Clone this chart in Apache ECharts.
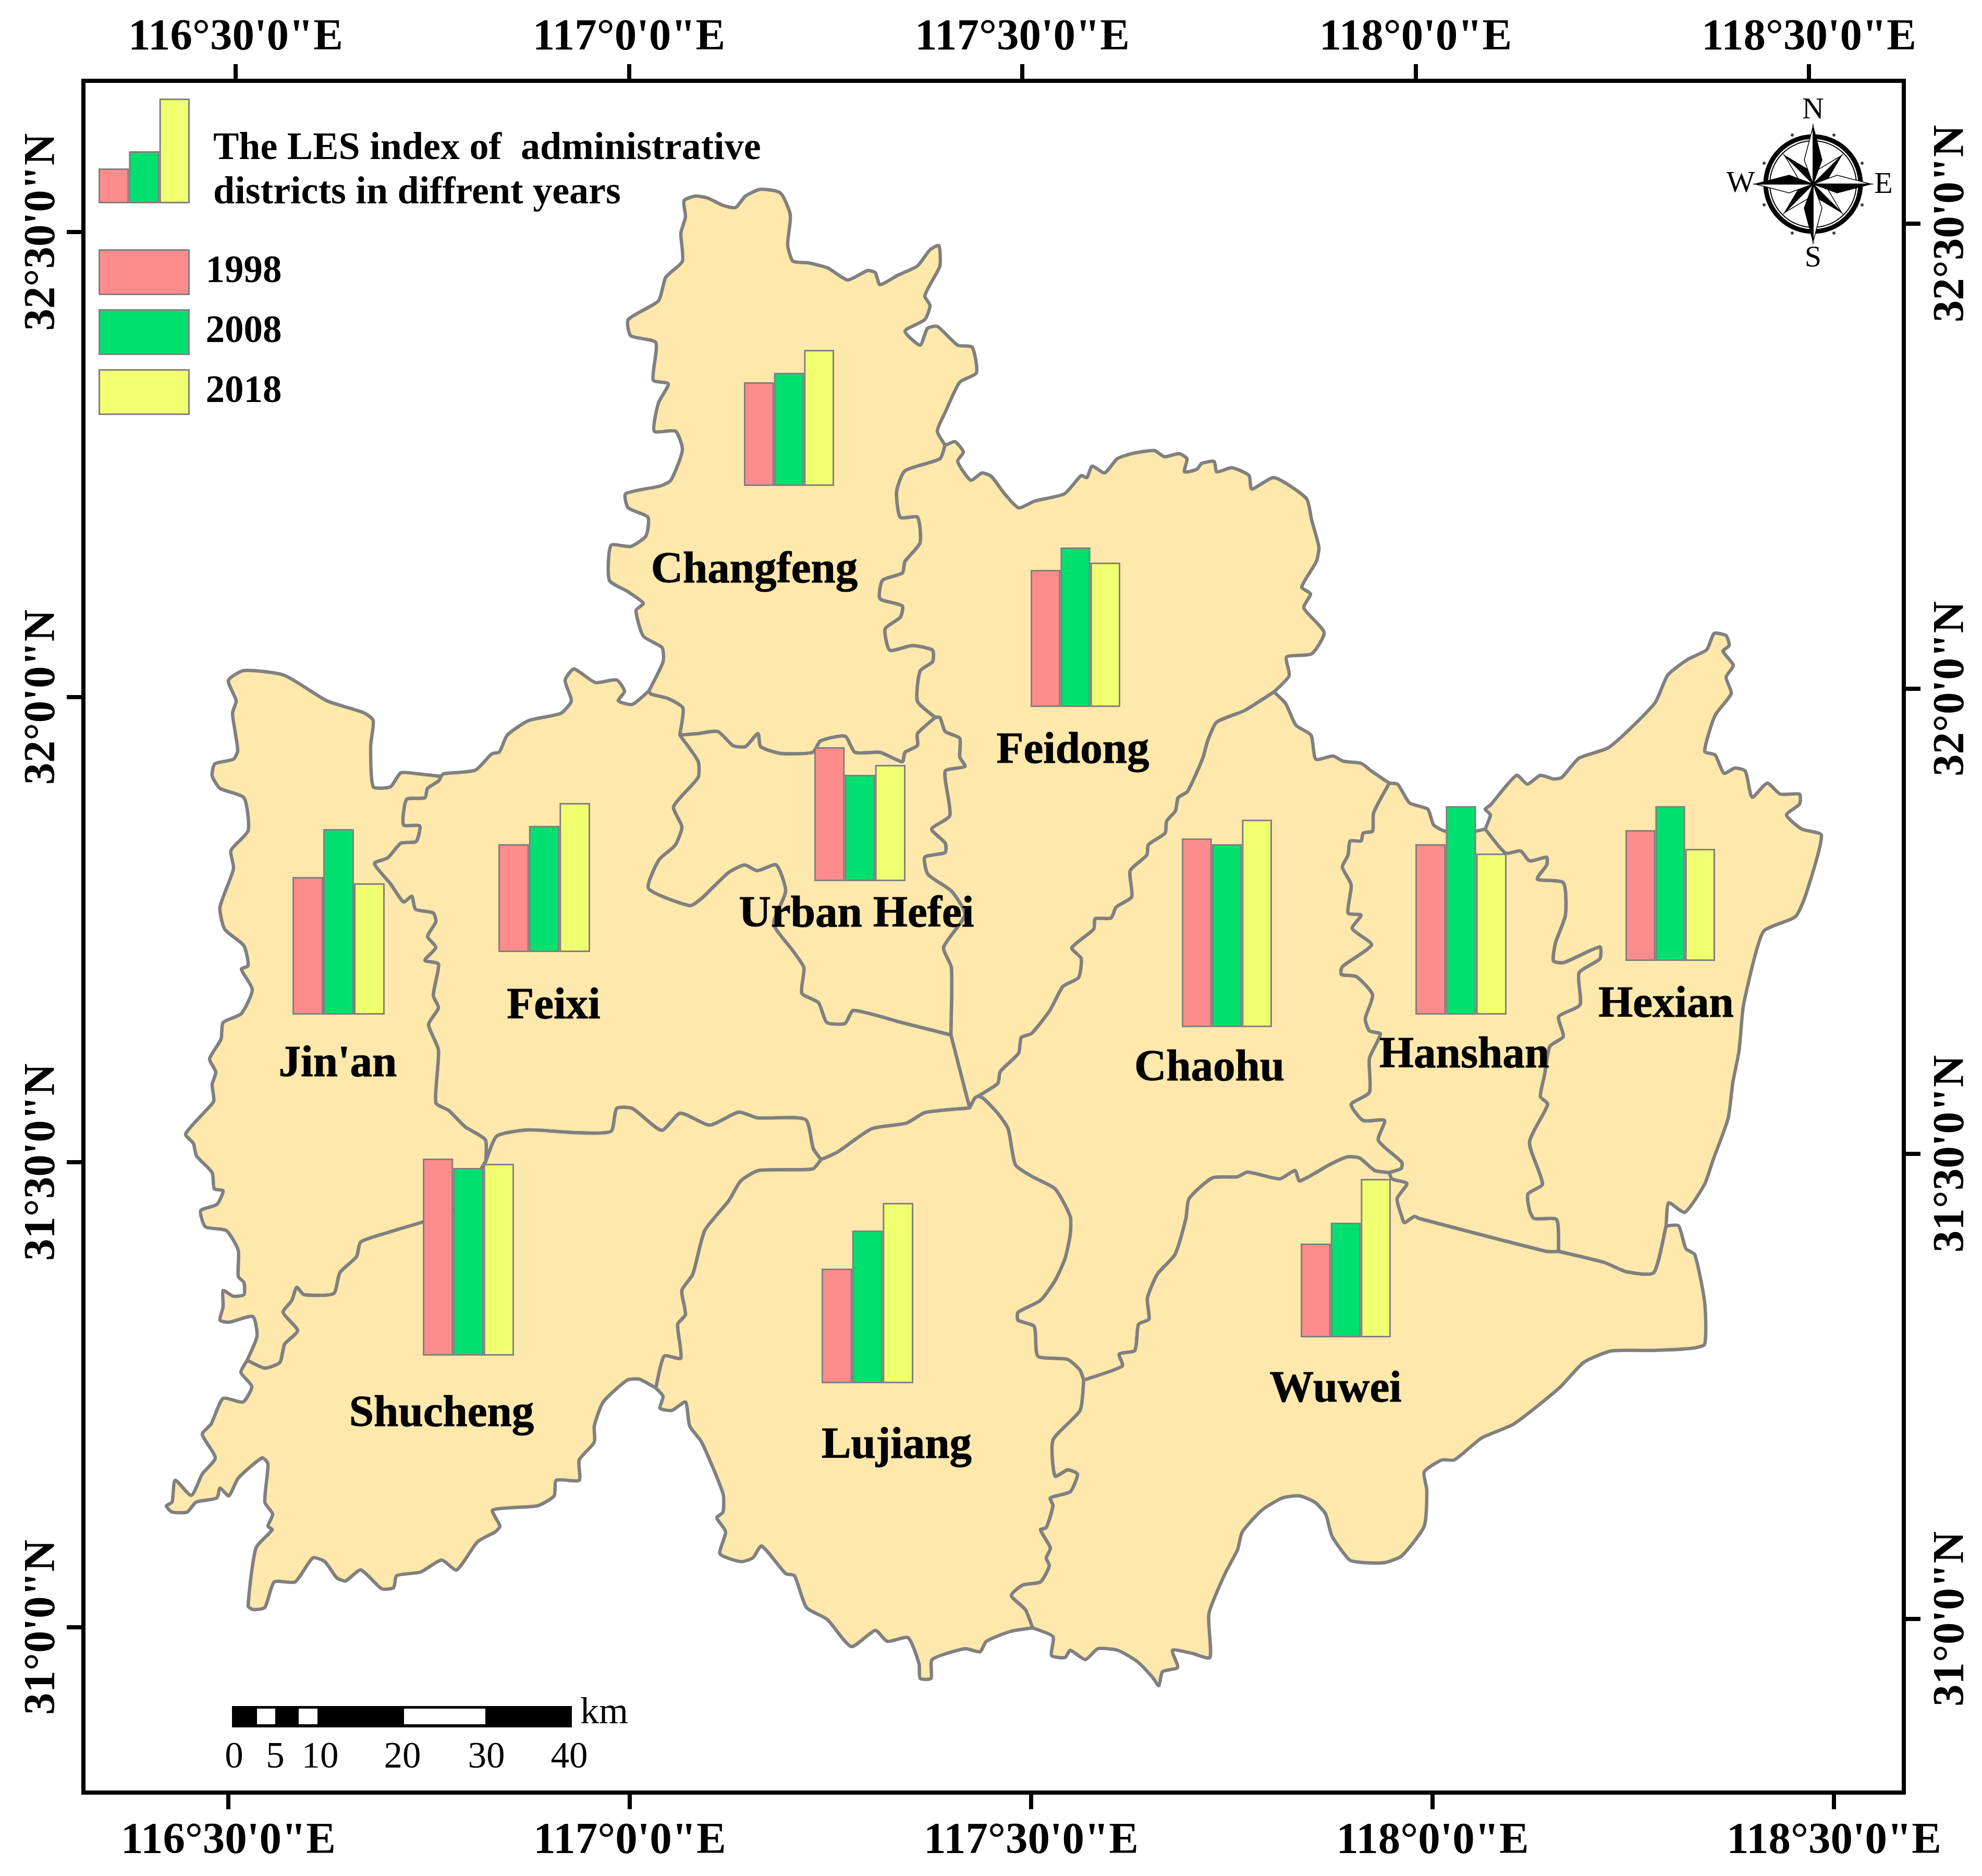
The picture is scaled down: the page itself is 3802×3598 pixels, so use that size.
<!DOCTYPE html>
<html><head><meta charset="utf-8"><style>html,body{margin:0;padding:0;background:#fff}#c{width:3802px;height:3598px}</style>
<script src="https://cdn.jsdelivr.net/npm/echarts@6/dist/echarts.min.js"></script></head>
<body><div id="c"></div><script>
// ---------- data ----------
const districts=["Changfeng","Feidong","Urban Hefei","Feixi","Jin'an","Shucheng","Lujiang","Chaohu","Wuwei","Hanshan","Hexian"];
const les1998=[.199,.263,.257,.207,.264,.378,.220,.362,.180,.327,.251];
const les2008=[.217,.306,.204,.242,.356,.360,.293,.351,.220,.400,.297];
const les2018=[.261,.277,.223,.286,.252,.368,.346,.398,.304,.309,.215];
const sampleBars=[.067,.100,.201];
const years=['1998','2008','2018'];
const lonTicks=[116.5,117,117.5,118,118.5];
const lonLabels=["116°30'0\"E","117°0'0\"E","117°30'0\"E","118°0'0\"E","118°30'0\"E"];
const latTicks=[31,31.5,32,32.5];
const latLabels=["31°0'0\"N","31°30'0\"N","32°0'0\"N","32°30'0\"N"];
const scaleKm=[0,5,10,20,30,40];
// boundary arcs, projected map units
const cfOuter=[[1245,1325],[1272,1269],[1270,1242],[1234,1220],[1220,1171],[1234,1157],[1205,1135],[1169,1113],[1172,1046],[1210,1048],[1239,1028],[1243,992],[1205,974],[1200,947],[1267,932],[1287,921],[1309,863],[1296,827],[1255,827],[1263,773],[1282,736],[1253,729],[1258,657],[1210,644],[1205,613],[1263,577],[1277,532],[1309,501],[1306,447],[1315,416],[1312,385],[1334,376],[1358,380],[1387,394],[1411,398],[1430,376],[1459,363],[1497,370],[1516,412],[1511,470],[1521,501],[1550,504],[1588,514],[1626,537],[1664,519],[1679,523],[1688,546],[1722,528],[1760,510],[1784,479],[1801,471],[1803,510],[1784,546],[1774,568],[1784,586],[1774,613],[1736,635],[1765,662],[1779,630],[1798,626],[1837,662],[1865,666],[1873,715],[1841,733],[1813,791],[1798,827],[1813,854]];
const cfFd=[[1813,854],[1803,880],[1736,903],[1720,943],[1727,992],[1760,992],[1765,1041],[1736,1077],[1731,1099],[1693,1113],[1688,1148],[1731,1162],[1727,1184],[1698,1206],[1707,1247],[1750,1238],[1789,1247],[1789,1269],[1765,1287],[1760,1345],[1794,1376]];
const cfSouth=[[1245,1325],[1248,1331],[1282,1340],[1310,1358],[1304,1410]];
const cfHf=[[1304,1410],[1339,1407],[1377,1403],[1406,1430],[1430,1432],[1454,1407],[1459,1432],[1497,1445],[1559,1443],[1574,1421],[1621,1412],[1640,1443],[1688,1443],[1731,1461],[1736,1443],[1760,1430],[1760,1407],[1794,1376]];
const fdNorth=[[1813,854],[1832,847],[1848,867],[1837,885],[1862,921],[1884,907],[1902,914],[1927,947],[1954,974],[1985,961],[2042,947],[2074,912],[2085,916],[2095,894],[2119,907],[2143,880],[2171,870],[2214,864],[2234,876],[2262,870],[2277,880],[2272,905],[2296,900],[2305,889],[2329,885],[2334,905],[2363,897],[2396,912],[2401,938],[2444,916],[2506,956],[2516,997],[2530,1050],[2525,1077],[2497,1126],[2514,1139],[2501,1166],[2540,1213],[2516,1254],[2468,1260],[2473,1296],[2444,1327]];
const fdCh=[[1877,2102],[1914,2078],[1919,2055],[1954,2020],[1959,1990],[1979,1982],[2014,1938],[2039,1892],[2069,1875],[2074,1838],[2056,1818],[2098,1782],[2101,1762],[2131,1761],[2141,1740],[2171,1720],[2168,1670],[2200,1640],[2203,1620],[2235,1598],[2238,1575],[2255,1555],[2260,1530],[2278,1518],[2307,1455],[2317,1420],[2334,1385],[2387,1363],[2444,1327]];
const fdHf=[[1794,1376],[1803,1376],[1813,1403],[1841,1416],[1841,1452],[1851,1470],[1813,1479],[1822,1564],[1787,1590],[1813,1617],[1813,1635],[1774,1644],[1780,1677],[1825,1709],[1851,1754],[1810,1817],[1825,1856],[1824,1985]];
const fdFx=[[1824,1985],[1860,2125]];
const link=[[1860,2125],[1870,2106],[1877,2102]];
const hfFx=[[1304,1410],[1339,1460],[1339,1491],[1292,1547],[1308,1586],[1295,1621],[1264,1649],[1244,1704],[1323,1737],[1346,1723],[1397,1674],[1428,1659],[1453,1670],[1489,1659],[1507,1709],[1484,1772],[1519,1821],[1542,1856],[1538,1905],[1570,1923],[1586,1961],[1621,1963],[1637,1938],[1729,1961],[1824,1985]];
const jnOuter=[[846,1489],[800,1484],[769,1482],[749,1509],[716,1509],[711,1431],[716,1382],[698,1367],[627,1344],[545,1295],[468,1286],[438,1305],[453,1344],[446,1368],[456,1439],[448,1456],[412,1465],[407,1488],[422,1512],[468,1530],[476,1593],[443,1631],[448,1666],[422,1740],[431,1782],[468,1814],[476,1852],[463,1859],[484,1898],[463,1944],[428,1961],[424,1993],[402,2031],[414,2056],[407,2080],[410,2112],[392,2133],[356,2175],[371,2193],[377,2217],[407,2249],[411,2280],[428,2284],[416,2310],[385,2322],[394,2353],[434,2360],[457,2398],[457,2448],[468,2460],[468,2483],[447,2486],[428,2475],[428,2506],[422,2532],[439,2536],[485,2525],[493,2563],[474,2609]];
const jnSc=[[474,2609],[508,2624],[537,2613],[546,2578],[571,2552],[543,2517],[560,2494],[569,2469],[583,2483],[640,2481],[652,2441],[684,2410],[692,2382],[744,2364],[813,2343],[870,2322],[932,2227]];
const jnFx=[[846,1489],[841,1498],[820,1512],[815,1530],[780,1533],[774,1582],[805,1584],[798,1614],[769,1617],[744,1645],[718,1656],[749,1695],[774,1730],[790,1719],[797,1744],[831,1751],[836,1768],[820,1796],[836,1817],[815,1842],[841,1849],[831,1909],[841,1933],[822,1965],[841,2014],[836,2115],[861,2130],[892,2161],[931,2186],[932,2227]];
const fxNorth=[[846,1489],[851,1484],[912,1477],[943,1446],[958,1442],[973,1410],[1014,1382],[1076,1368],[1096,1344],[1084,1305],[1101,1283],[1142,1309],[1183,1304],[1198,1326],[1186,1344],[1213,1351],[1245,1325]];
const fxSc=[[932,2227],[953,2179],[1014,2167],[1096,2172],[1172,2170],[1183,2126],[1213,2126],[1269,2168],[1305,2135],[1361,2158],[1417,2133],[1453,2144],[1545,2147],[1560,2203],[1575,2224]];
const fxLj=[[1575,2224],[1606,2210],[1672,2165],[1739,2154],[1774,2134],[1860,2125]];
const scLj=[[1575,2224],[1559,2242],[1455,2245],[1421,2265],[1398,2303],[1352,2360],[1329,2444],[1308,2475],[1315,2521],[1300,2540],[1306,2605],[1274,2601],[1258,2662]];
const scOuter=[[474,2609],[462,2632],[483,2659],[466,2689],[428,2682],[405,2731],[388,2751],[413,2796],[388,2827],[367,2868],[336,2839],[330,2881],[319,2888],[330,2900],[359,2900],[376,2881],[416,2873],[422,2854],[439,2869],[457,2835],[503,2796],[514,2808],[508,2881],[523,2904],[514,2927],[522,2934],[491,2969],[476,3080],[485,3087],[508,3083],[526,3034],[566,3034],[600,2988],[623,2995],[646,3026],[663,3032],[692,3011],[732,3047],[755,3045],[761,3022],[807,3015],[847,2992],[876,3011],[916,2957],[950,2938],[959,2927],[945,2896],[1031,2888],[1063,2869],[1067,2839],[1111,2839],[1111,2800],[1140,2766],[1140,2735],[1157,2689],[1203,2647],[1226,2645],[1258,2662]];
const ljOuter=[[1258,2662],[1272,2678],[1266,2701],[1289,2705],[1315,2689],[1323,2735],[1346,2766],[1387,2865],[1387,2900],[1375,2911],[1392,2938],[1381,2980],[1421,2995],[1444,2988],[1461,2965],[1507,3018],[1524,3022],[1547,3083],[1587,3106],[1633,3158],[1679,3127],[1702,3148],[1742,3141],[1763,3191],[1765,3219],[1786,3219],[1788,3183],[1851,3162],[1880,3168],[1892,3148],[1938,3129],[1981,3122]];
const ljCh=[[1877,2102],[1887,2107],[1914,2135],[1934,2165],[1948,2234],[1981,2257],[2024,2280],[2053,2333],[2053,2368],[2043,2414],[2024,2456],[1996,2494],[1953,2517],[1953,2532],[1984,2544],[1991,2601],[2048,2607],[2072,2628],[2079,2647]];
const ljWw=[[2079,2647],[2072,2705],[2020,2762],[2024,2831],[2048,2819],[2067,2827],[2053,2861],[2015,2873],[2020,2888],[2007,2930],[1996,2934],[2015,2969],[2007,2988],[2013,3003],[1996,3034],[1962,3040],[1940,3060],[1967,3087],[1981,3122]];
const wwOuter=[[1981,3122],[2020,3139],[2017,3175],[2043,3179],[2053,3165],[2082,3183],[2106,3162],[2144,3165],[2182,3187],[2211,3217],[2223,3233],[2230,3206],[2259,3198],[2249,3165],[2287,3171],[2321,3179],[2319,3095],[2350,3018],[2374,2972],[2383,2938],[2421,2896],[2460,2873],[2493,2869],[2522,2881],[2543,2904],[2555,2946],[2589,2992],[2617,2997],[2656,2997],[2689,2984],[2732,2927],[2737,2858],[2732,2823],[2766,2800],[2790,2800],[2842,2758],[2904,2731],[2991,2662],[3038,2613],[3091,2591],[3172,2590],[3244,2586],[3270,2578],[3270,2498],[3251,2406],[3234,2395],[3220,2351],[3196,2351]];
const hxOuter=[[3196,2351],[3201,2307],[3232,2325],[3270,2271],[3286,2225],[3315,2145],[3324,2076],[3336,2015],[3344,1931],[3365,1839],[3384,1785],[3444,1758],[3464,1716],[3494,1602],[3456,1590],[3427,1563],[3452,1542],[3452,1523],[3415,1523],[3390,1502],[3361,1529],[3348,1479],[3328,1473],[3307,1483],[3290,1448],[3270,1441],[3290,1372],[3321,1330],[3311,1299],[3325,1276],[3305,1249],[3317,1238],[3311,1219],[3288,1215],[3274,1246],[3237,1265],[3199,1295],[3174,1349],[3087,1433],[3029,1454],[2996,1491],[2980,1494],[2955,1487],[2930,1504],[2909,1487],[2859,1544],[2849,1552],[2859,1563],[2849,1590]];
const hxHs=[[2849,1590],[2888,1636],[2917,1632],[2934,1651],[2967,1644],[2967,1659],[2949,1686],[2999,1693],[3003,1755],[2984,1808],[2980,1843],[3000,1846],[3069,1816],[3069,1839],[3029,1866],[3031,1927],[2990,1950],[2999,1988],[2973,2007],[2963,2061],[2955,2103],[2969,2118],[2934,2191],[2959,2271],[2931,2290],[2934,2321],[2943,2337],[2986,2339],[2990,2400]];
const hxWw=[[3196,2351],[3172,2441],[3120,2439],[3077,2421],[2990,2400]];
const hsWw=[[2990,2400],[2967,2400],[2723,2337],[2713,2333],[2694,2345],[2689,2333],[2680,2299],[2699,2270],[2670,2261],[2665,2249]];
const hsCh=[[2665,1502],[2635,1559],[2633,1594],[2615,1598],[2611,1613],[2590,1613],[2586,1640],[2575,1663],[2592,1697],[2586,1751],[2611,1755],[2594,1781],[2631,1812],[2575,1854],[2573,1869],[2602,1873],[2633,1908],[2619,1954],[2627,1977],[2648,1983],[2627,2030],[2627,2095],[2592,2118],[2615,2149],[2656,2149],[2644,2187],[2689,2229],[2688,2241],[2665,2249]];
const hsTop=[[2665,1502],[2681,1504],[2704,1540],[2739,1552],[2750,1582],[2772,1594],[2830,1594],[2849,1590]];
const chOuter=[[2444,1327],[2466,1349],[2486,1391],[2515,1410],[2524,1456],[2557,1450],[2577,1460],[2611,1464],[2631,1479],[2665,1502]];
const chWw=[[2079,2647],[2153,2620],[2147,2597],[2177,2590],[2184,2540],[2204,2530],[2201,2490],[2220,2444],[2254,2406],[2275,2337],[2281,2299],[2326,2259],[2374,2257],[2393,2248],[2455,2261],[2484,2245],[2493,2265],[2550,2234],[2584,2219],[2608,2221],[2637,2245],[2665,2249]];

// ---------- layout ----------
const W=3802,H=3598,F='"Liberation Serif","Times New Roman",serif';
const rev=a=>a.slice().reverse();
const join=(...as)=>as.flat();
const rings=[
 join(cfOuter,cfFd,rev(cfHf),rev(cfSouth)),
 join(fdNorth,rev(fdCh),rev(link),rev(fdFx),rev(fdHf),rev(cfFd)),
 join(cfHf,fdHf,rev(hfFx)),
 join(fxNorth,cfSouth,hfFx,fdFx,rev(fxLj),rev(fxSc),rev(jnFx)),
 join(jnOuter,jnSc,rev(jnFx)),
 join(jnSc,fxSc,scLj,rev(scOuter)),
 join(fxLj,link,ljCh,ljWw,rev(ljOuter),rev(scLj)),
 join(fdCh,chOuter,hsCh,rev(chWw),rev(ljCh)),
 join(chWw,rev(hsWw),rev(hxWw),rev(wwOuter),rev(ljWw)),
 join(hsTop,hxHs,hsWw,rev(hsCh)),
 join(hxOuter,hxHs,rev(hxWw))
];
// label anchors: centre x, baseline y
const labelAt=[[1447,1117],[2058,1463],[1643,1777],[1062,1953],[648,2064],[847,2735],[1720,2796],[2320,2072],[2562,2688],[2809,2047],[3196,1950]];
// bar groups: left, base, total width
const barAt=[[1427,932,173],[1977,1356,172],[1562,1690,175],[956,1826,176],[561,1946,177],[811,2600,175],[1576,2653,176],[2267,1970,173],[2495,2565,173],[2715,1946,175],[3118,1843,172]];
const frame={l:160,t:155,r:3652,b:3438};
const colors=['#FF8C8C','#00E070','#F0FF70'];
const edge='#808080';

const grids=[{left:frame.l,top:frame.t,width:frame.r-frame.l,height:frame.b-frame.t,show:true,borderColor:'#000',borderWidth:8,backgroundColor:'transparent'},
 {left:0,top:0,width:W,height:H}];
const tickAxis=(extra,vals,labs,margin,rot)=>Object.assign({type:'value',gridIndex:0,scale:true,splitLine:{show:false},
  axisLine:{show:true,onZero:false,lineStyle:{color:'#000',width:8}},
  axisTick:{show:true,length:32,lineStyle:{color:'#000',width:8},customValues:vals},
  axisLabel:{show:true,rotate:rot,margin,color:'#000',fontFamily:F,fontWeight:'bold',fontSize:85,customValues:vals,hideOverlap:false,
    formatter:v=>labs[vals.indexOf(+v)]||''}},extra);
const xAxes=[
 tickAxis({position:'top',min:116.3065,max:118.6206},lonTicks,lonLabels,39,0),
 tickAxis({position:'bottom',min:116.3195,max:118.587},lonTicks,lonLabels,52,0),
 {type:'value',gridIndex:1,min:0,max:W,show:false}];
const yAxes=[
 tickAxis({position:'left',min:30.8223,max:32.6626},latTicks,latLabels,35,90),
 tickAxis({position:'right',min:30.8133,max:32.6536},latTicks,latLabels,50,90),
 {type:'value',gridIndex:1,min:0,max:H,inverse:true,show:false}];

const series=[{
  type:'custom',name:'districts',xAxisIndex:2,yAxisIndex:2,coordinateSystem:'cartesian2d',clip:false,z:2,silent:true,
  data:districts.map((d,i)=>({name:d,value:labelAt[i]})),
  renderItem:(p,api)=>({type:'polygon',shape:{points:rings[p.dataIndex].map(c=>api.coord(c)),smooth:0.2},
     style:{fill:'#FFE8AB',stroke:edge,lineWidth:6.5,lineJoin:'round'}})
}];
function addBars(left,base,width,vals,name,room){
  const gi=grids.length;
  grids.push({left,top:base-room,width,height:room});
  xAxes.push({type:'category',gridIndex:gi,data:[name],show:false});
  yAxes.push({type:'value',gridIndex:gi,min:0,max:room/1000,show:false});
  years.forEach((y,k)=>series.push({type:'bar',name:y,xAxisIndex:xAxes.length-1,yAxisIndex:yAxes.length-1,
    barGap:0,barCategoryGap:0,z:5,silent:true,data:[vals[k]],
    itemStyle:{color:colors[k],borderColor:edge,borderWidth:3}}));
}
districts.forEach((d,i)=>addBars(barAt[i][0],barAt[i][1],barAt[i][2],[les1998[i],les2008[i],les2018[i]],d,500));
addBars(189,390,175,sampleBars,'sample',250);
series.push({type:'scatter',name:'names',xAxisIndex:2,yAxisIndex:2,symbolSize:1,z:8,silent:true,
  itemStyle:{color:'rgba(0,0,0,0)',opacity:1},
  data:districts.map((d,i)=>({name:d,value:[labelAt[i][0],labelAt[i][1]-22]})),
  label:{show:true,position:'inside',formatter:'{b}',color:'#000',opacity:1,fontFamily:F,fontWeight:'bold',fontSize:85,align:'center',verticalAlign:'middle',textBorderColor:'#000',textBorderWidth:1}});

// compass + scale bar decoration
const cx=3478,cy=353,g=[];
g.push({type:'circle',x:cx,y:cy,shape:{r:91},style:{fill:'none',stroke:'#000',lineWidth:9}});
g.push({type:'circle',x:cx,y:cy,shape:{r:83},style:{fill:'none',stroke:'#000',lineWidth:2}});
[[40,94],[-40,94],[40,-94],[-40,-94],[94,40],[-94,40],[94,-40],[-94,-40]].forEach(o=>g.push({type:'circle',x:cx+o[0],y:cy+o[1],shape:{r:3},style:{fill:'#444'}}));
function kite(a,len,sd,sw){
  const s=Math.sin(a),c=Math.cos(a),t=[s*len,-c*len],n=[c,s],u=[s,-c];
  const R=[u[0]*sd+n[0]*sw,u[1]*sd+n[1]*sw],L=[u[0]*sd-n[0]*sw,u[1]*sd-n[1]*sw];
  g.push({type:'polygon',x:cx,y:cy,shape:{points:[[0,0],t,L]},style:{fill:'#fff',stroke:'#000',lineWidth:1.5}});
  g.push({type:'polygon',x:cx,y:cy,shape:{points:[[0,0],t,R]},style:{fill:'#000',stroke:'#000',lineWidth:1.5}});
}
for(let k=0;k<4;k++) kite(Math.PI/4+k*Math.PI/2,77,26,13);
for(let k=0;k<4;k++) kite(k*Math.PI/2,111,46,17);
[['N',cx,212],['S',cx,496],['W',3339,353],['E',3613,355]].forEach(t=>g.push({type:'text',x:t[1],y:t[2],style:{text:t[0],font:'58px '+F,fill:'#000',textAlign:'center',textVerticalAlign:'middle'}}));
g.push({type:'rect',shape:{x:445,y:3272,width:652,height:41},style:{fill:'#000'}});
[[493,35],[573,36],[775,156]].forEach(s=>g.push({type:'rect',shape:{x:s[0],y:3277,width:s[1],height:30},style:{fill:'#fff'}}));
const scaleX=[449,528,614,772,933,1092];
scaleKm.forEach((k,i)=>g.push({type:'text',x:scaleX[i],y:3371,style:{text:String(k),font:'71px '+F,fill:'#000',textAlign:'center',textVerticalAlign:'middle'}}));
g.push({type:'text',x:1113,y:3286,style:{text:'km',font:'72px '+F,fill:'#000',textAlign:'left',textVerticalAlign:'middle'}});

const chart=echarts.init(document.getElementById('c'),null,{renderer:'canvas',width:W,height:H});
chart.setOption({animation:false,backgroundColor:'#fff',tooltip:{show:false},
  title:{left:409,top:243,padding:0,text:'The LES index of  administrative\ndistricts in diffrent years',
    textStyle:{fontFamily:F,fontWeight:'bold',fontSize:74,lineHeight:85,color:'#000'}},
  legend:{left:189,top:478,padding:0,orient:'vertical',itemWidth:172,itemHeight:85,itemGap:27,icon:'rect',data:years,selectedMode:false,
    textStyle:{fontFamily:F,fontWeight:'bold',fontSize:73,color:'#000',padding:[16,0,0,27]},
    itemStyle:{borderColor:edge,borderWidth:3}},
  grid:grids,xAxis:xAxes,yAxis:yAxes,series,graphic:{elements:g}});
</script></body></html>
